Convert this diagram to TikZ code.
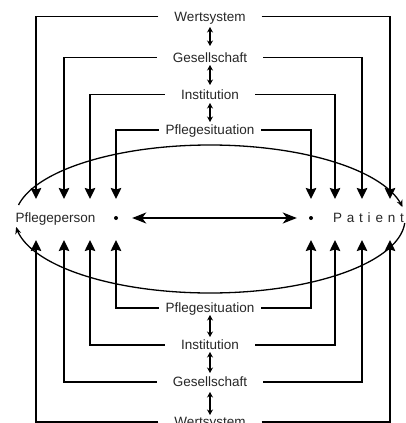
\documentclass[tikz,border=0pt]{standalone}
\usepackage{fontspec}
\setmainfont{Liberation Sans}
\usetikzlibrary{arrows.meta}
\begin{document}
\begin{tikzpicture}[x=1pt,y=-1pt,
  font=\fontsize{13.5}{16}\selectfont,
  lbl/.style={inner xsep=16pt, inner ysep=0pt, text height=9.7pt, text depth=0pt, text=black!85},
  side/.style={inner sep=0pt, text height=9.7pt, text depth=0pt, text=black!85},
  main/.style={line width=1.8pt},
  varr/.style={main, -{Stealth[length=11pt,width=10.5pt,inset=1.5pt]}},
  harr/.style={main, {Stealth[length=14pt,width=11pt,inset=4pt]}-{Stealth[length=14pt,width=11pt,inset=4pt]}},
  sarr/.style={line width=1.6pt, {Stealth[length=5.5pt,width=6pt]}-{Stealth[length=5.5pt,width=6pt]}},
  ell/.style={line width=1.3pt},
  ellarr/.style={ell, -{Stealth[length=7pt,width=6pt]}},
  dot/.style={circle, fill, inner sep=0pt, minimum size=4pt}]
\useasboundingbox (0,0) rectangle (406,423);
\clip (0,0) rectangle (406,423);

% labels top
\node[lbl] (W1) at (210,16.5) {Wertsystem};
\node[lbl] (G1) at (210,57.5) {Gesellschaft};
\node[lbl] (I1) at (210,94.5) {Institution};
\node[lbl, inner xsep=7pt] (P1) at (210,130) {Pflegesituation};
% labels bottom
\node[lbl, inner xsep=7pt] (P2) at (210,308) {Pflegesituation};
\node[lbl] (I2) at (210,345) {Institution};
\node[lbl] (G2) at (210,382) {Gesellschaft};
\node[lbl] (W2) at (210,422) {Wertsystem};

% persons
\node[side] (pp) at (55.5,218) {Pflegeperson};
\node[side] (pa) at (368.5,218) {P\hspace{4.8pt}a\hspace{4.8pt}t\hspace{4.8pt}i\hspace{4.8pt}e\hspace{4.8pt}n\hspace{4.8pt}t};
\node[dot] (d1) at (116,218) {};
\node[dot] (d2) at (311,218) {};

% arrow tips
\coordinate (tL1) at (36,199);  \coordinate (tL2) at (64,199);
\coordinate (tL3) at (90,199);  \coordinate (tL4) at (116,199);
\coordinate (tR4) at (311,199); \coordinate (tR3) at (335,199);
\coordinate (tR2) at (362,199); \coordinate (tR1) at (390,199);
\coordinate (bL1) at (36,240);  \coordinate (bL2) at (64,240);
\coordinate (bL3) at (90,240);  \coordinate (bL4) at (116,240);
\coordinate (bR4) at (311,240); \coordinate (bR3) at (335,240);
\coordinate (bR2) at (362,240); \coordinate (bR1) at (390,240);

% top connectors
\draw[varr] (W1.west) -| (tL1); \draw[varr] (W1.east) -| (tR1);
\draw[varr] (G1.west) -| (tL2); \draw[varr] (G1.east) -| (tR2);
\draw[varr] (I1.west) -| (tL3); \draw[varr] (I1.east) -| (tR3);
\draw[varr] (P1.west) -| (tL4); \draw[varr] (P1.east) -| (tR4);
% bottom connectors
\draw[varr] (W2.west) -| (bL1); \draw[varr] (W2.east) -| (bR1);
\draw[varr] (G2.west) -| (bL2); \draw[varr] (G2.east) -| (bR2);
\draw[varr] (I2.west) -| (bL3); \draw[varr] (I2.east) -| (bR3);
\draw[varr] (P2.west) -| (bL4); \draw[varr] (P2.east) -| (bR4);

% small double arrows
\draw[sarr, shorten <=10.5pt, shorten >=11.5pt] (W1.center) -- (G1.center);
\draw[sarr, shorten <=7.5pt, shorten >=9.5pt] (G1.center) -- (I1.center);
\draw[sarr, shorten <=8.5pt, shorten >=8pt] (I1.center) -- (P1.center);
\draw[sarr, shorten <=7pt, shorten >=8pt] (P2.center) -- (I2.center);
\draw[sarr, shorten <=7pt, shorten >=9pt] (I2.center) -- (G2.center);
\draw[sarr, shorten <=10pt, shorten >=7pt] (G2.center) -- (W2.center);

% central double arrow
\draw[harr, shorten <=14pt, shorten >=12pt] (d1) -- (d2);

% ellipse
\draw[ellarr] plot[domain=169.1:9.3, samples=120, smooth] ({210+195*cos(\x)},{219-74*sin(\x)});
\draw[ellarr] plot[domain=-3.1:-173.8, samples=120, smooth] ({210+195*cos(\x)},{219-74*sin(\x)});
\end{tikzpicture}
\end{document}
